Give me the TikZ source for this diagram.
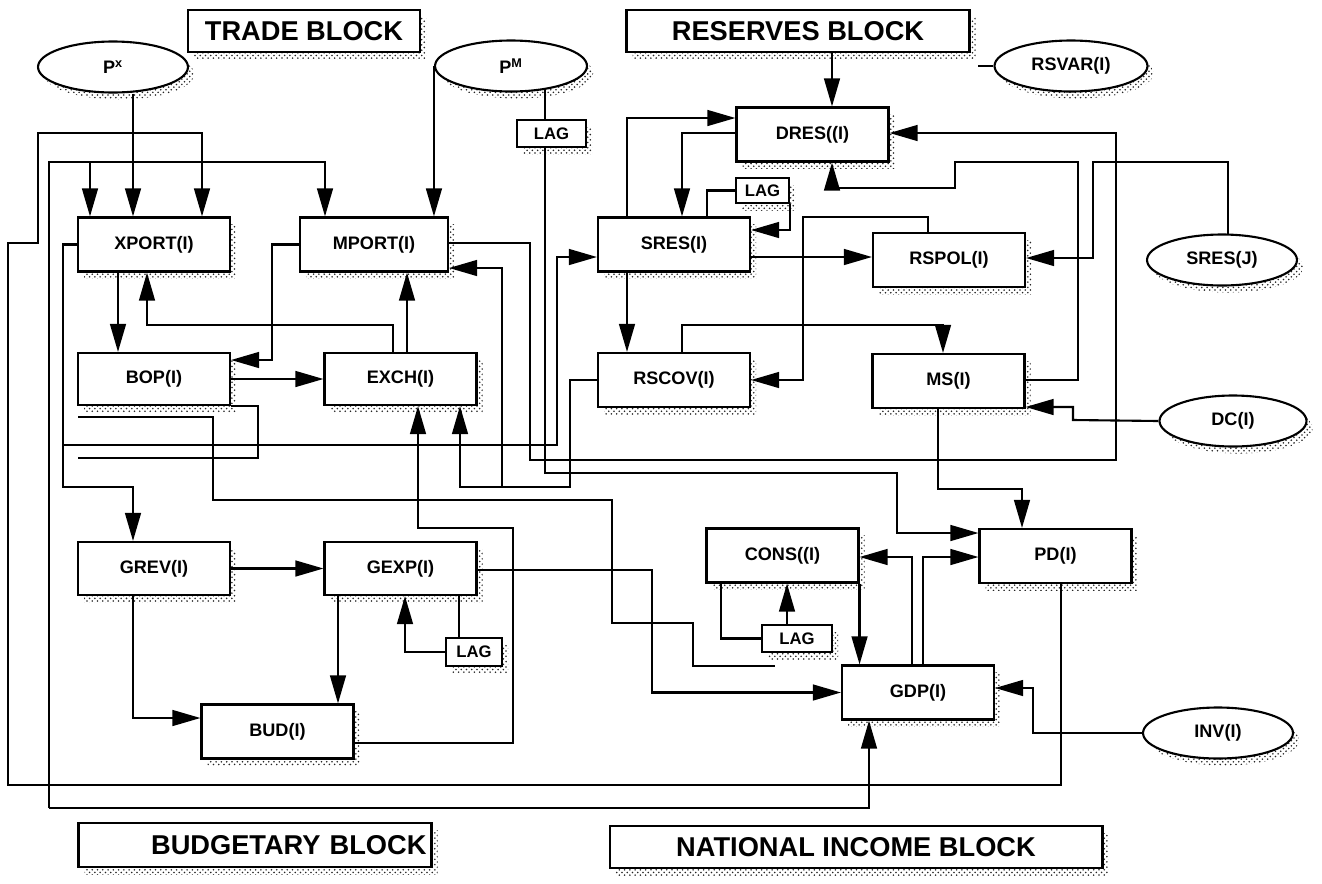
\documentclass[tikz,border=0pt]{standalone}
\usepackage{fontspec}
\setsansfont{Liberation Sans}
\usetikzlibrary{arrows.meta,shapes.geometric,shadows,patterns}
\begin{document}
\begin{tikzpicture}[x=0.02cm,y=-0.02cm,
  conn/.style={line width=1.2pt},
  arr/.style={conn,-{Triangle[length=16pt,width=9pt]}},
  shad/.style={general shadow={draw=none,shadow xshift=3.5pt,shadow yshift=-4pt,pattern=crosshatch dots,pattern color=black!85}},
  box/.style={draw,line width=1.2pt,fill=white,shad,minimum width=3.04cm,minimum height=1.08cm,inner sep=0pt,font=\sffamily\bfseries\fontsize{10.3}{12}\selectfont},
  lagbox/.style={draw,line width=1.2pt,fill=white,shad,minimum height=0.54cm,inner sep=0pt,font=\sffamily\bfseries\fontsize{9.5}{11}\selectfont},
  oval/.style={ellipse,draw,line width=1.2pt,fill=white,shad,inner sep=0pt,minimum width=3.0cm,minimum height=1.02cm,font=\sffamily\bfseries\fontsize{10.3}{12}\selectfont},
  blk/.style={draw,line width=1.2pt,fill=white,shad,inner sep=0pt,minimum height=0.84cm,font=\sffamily\bfseries\fontsize{15.5}{18}\selectfont}
]
\useasboundingbox (0,0) rectangle (1322,883);

% block titles
\node[blk,minimum width=4.64cm] (tradeblk) at (304,31) {TRADE BLOCK};
\node[blk,minimum width=6.86cm] (resblk) at (798,31) {RESERVES BLOCK};
\node[blk,minimum width=7.06cm,minimum height=0.88cm,text width=6.86cm,align=right] (budblk) at (255,845) {BUDGETARY BLOCK};
\node[blk,minimum width=9.86cm] (niblk) at (856,847) {NATIONAL INCOME BLOCK};

% exogenous ellipses
\node[oval] (px) at (113,67) {P\textsuperscript{x}};
\node[oval,minimum width=3.04cm] (pm) at (511,66) {P\textsuperscript{M}};
\node[oval,minimum width=3.06cm] (rsvar) at (1071,66) {RSVAR(I)};
\node[oval] (sresj) at (1222,260) {SRES(J)};
\node[oval,minimum width=2.94cm] (dc) at (1233,421) {DC(I)};
\node[oval] (inv) at (1218,733) {INV(I)};

% equation boxes
\node[box] (xport) at (154,244.5) {XPORT(I)};
\node[box,minimum width=2.96cm] (mport) at (374,244.5) {MPORT(I)};
\node[box,minimum height=1.04cm] (bop) at (154,379) {BOP(I)};
\node[box,minimum height=1.04cm] (exch) at (400.5,379) {EXCH(I)};
\node[box] (sres) at (674,244.5) {SRES(I)};
\node[box] (dres) at (812.5,134.5) {DRES((I)};
\node[box] (rspol) at (949,260) {RSPOL(I)};
\node[box] (rscov) at (674,380) {RSCOV(I)};
\node[box] (ms) at (948.5,381) {MS(I)};
\node[box,minimum height=1.06cm] (grev) at (154,568.5) {GREV(I)};
\node[box,minimum height=1.06cm] (gexp) at (400.5,568.5) {GEXP(I)};
\node[box] (bud) at (277.5,731.5) {BUD(I)};
\node[box] (cons) at (782.5,555.5) {CONS((I)};
\node[box] (pd) at (1055.5,556) {PD(I)};
\node[box] (gdp) at (918,692.5) {GDP(I)};

% lag boxes
\node[lagbox,minimum width=1.38cm] (lag1) at (551.5,133.5) {LAG};
\node[lagbox,minimum width=1.06cm,minimum height=0.5cm] (lag2) at (762.5,190.5) {LAG};
\node[lagbox,minimum width=1.12cm,minimum height=0.56cm] (lag3) at (474,652) {LAG};
\node[lagbox,minimum width=1.4cm] (lag4) at (797,638.5) {LAG};

% ---------------- trade block connectors
\draw[arr] (133,0 |- px.south) -- (133,0 |- xport.north);
\draw[arr] (1061,0 |- pd.south) -- (1061,785) -- (8,785) -- (8,243) -- (38,243) -- (38,133) -- (202,133) -- (202,0 |- xport.north);
\draw[arr] (49,808) -- (49,162) -- (325,162) -- (325,0 |- mport.north);
\draw[arr] (90,162) -- (90,0 |- xport.north);
\draw[arr] (49,808) -- (869,808) -- (869,0 |- gdp.south);
\draw[arr] (pm.west) -- (pm.west |- mport.north);
\draw[conn] (545,90) -- (545,0 |- lag1.north);
\draw[arr] (545,0 |- lag1.south) -- (545,473) -- (897,473) -- (897,533) -- (pd.west |- 0,533);
\draw[arr] (xport.west) -- (63,244.5) -- (63,487) -- (133,487) -- (133,0 |- grev.north);
\draw[arr] (63,445) -- (557,445) -- (557,257) -- (sres.west |- 0,257);
\draw[arr] (393,0 |- exch.north) -- (393,325) -- (147,325) -- (147,0 |- xport.south);
\draw[arr] (407,0 |- exch.north) -- (407,0 |- mport.south);
\draw[arr] (118,0 |- xport.south) -- (118,0 |- bop.north);
\draw[arr] (mport.west) -- (272,244.5) -- (272,360) -- (bop.east |- 0,360);
\draw[arr] (bop) -- (exch);
\draw[conn] (bop.south east) -- (258,0 |- bop.south east) -- (258,458) -- (78,458);
\draw[conn] (78,417) -- (213,417) -- (213,500) -- (612,500) -- (612,623) -- (693,623) -- (693,666) -- (775,666);
\draw[arr] (mport.east |- 0,243) -- (530,243) -- (530,460) -- (1116,460) -- (1116,133) -- (dres.east |- 0,133);
\draw[arr] (rscov.west) -- (570,380) -- (570,487) -- (460,487) -- (460,0 |- exch.south);
\draw[arr] (502,487) -- (502,268) -- (mport.east |- 0,268);
\draw[arr] (bud.east |- 0,743) -- (513,743) -- (513,528) -- (418,528) -- (418,0 |- exch.south);

% ---------------- budgetary block connectors
\draw[arr] (grev) -- (gexp);
\draw[arr] (133,0 |- grev.south) -- (133,718) -- (bud.west |- 0,718);
\draw[arr] (338,0 |- gexp.south) -- (338,0 |- bud.north);
\draw[conn] (459,0 |- gexp.south) -- (459,0 |- lag3.north);
\draw[arr] (lag3.west) -- (405,652) -- (405,0 |- gexp.south);
\draw[arr] (gexp.east |- 0,570) -- (652,570) -- (652,692.5) -- (gdp.west);

% ---------------- national income block connectors
\draw[conn] (721,0 |- cons.south) -- (721,638.5) -- (lag4.west);
\draw[arr] (787,0 |- lag4.north) -- (787,0 |- cons.south);
\draw[arr] (cons.south east) -- (cons.south east |- gdp.north);
\draw[arr] (912,0 |- gdp.north) -- (912,557) -- (cons.east |- 0,557);
\draw[arr] (923,0 |- gdp.north) -- (923,557) -- (pd.west |- 0,557);
\draw[arr] (938,0 |- ms.south) -- (938,489) -- (1022,489) -- (1022,0 |- pd.north);
\draw[arr] (inv.west) -- (1033,733) -- (1033,688) -- (gdp.east |- 0,688);

% ---------------- reserves block connectors
\draw[arr] (832,0 |- resblk.south) -- (832,0 |- dres.north);
\draw[conn] (rsvar.west) -- (978,66);
\draw[arr] (627,0 |- sres.north) -- (627,118) -- (dres.west |- 0,118);
\draw[arr] (dres.west |- 0,133) -- (682,133) -- (682,0 |- sres.north);
\draw[conn] (707,0 |- sres.north) -- (707,190.5) -- (lag2.west);
\draw[arr] (lag2.south east) -- (lag2.south east |- 0,230) -- (sres.east |- 0,230);
\draw[arr] (ms.east |- 0,380) -- (1078,380) -- (1078,162) -- (955,162) -- (955,188) -- (832,188) -- (832,0 |- dres.south);
\draw[arr] (1228,234) -- (1228,162) -- (1093,162) -- (1093,258) -- (rspol.east |- 0,258);
\draw[arr] (sres.east |- 0,257) -- (rspol.west |- 0,257);
\draw[arr] (928,0 |- rspol.north) -- (928,217) -- (803,217) -- (803,380) -- (rscov.east |- 0,380);
\draw[arr] (627,0 |- sres.south) -- (627,0 |- rscov.north);
\draw[arr] (682,0 |- rscov.north) -- (682,325) -- (943,325) -- (943,0 |- ms.north);
\draw[arr] (dc.west) -- (1073,420) -- (1073,407) -- (ms.east |- 0,407);
\end{tikzpicture}
\end{document}
